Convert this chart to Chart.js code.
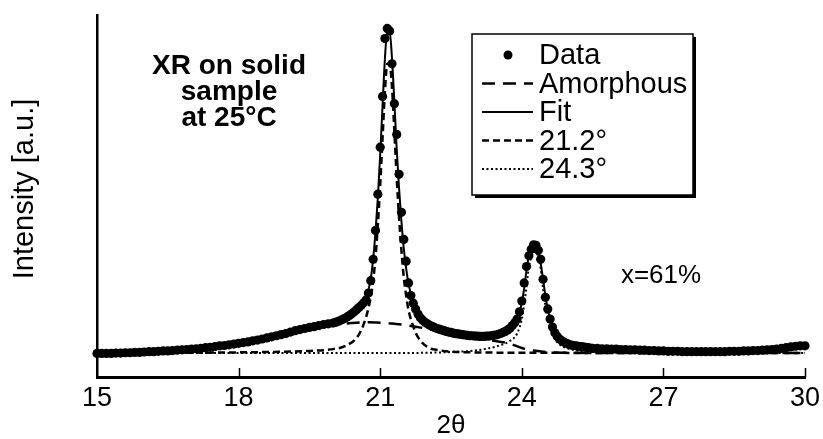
<!DOCTYPE html>
<html>
<head>
<meta charset="utf-8">
<script src="https://cdn.jsdelivr.net/npm/chart.js@4.4.0/dist/chart.umd.min.js"></script>
<style>
  html, body { margin: 0; padding: 0; background: #fff; }
  #wrap { width: 823px; height: 439px; }
</style>
</head>
<body>
<div id="wrap"><canvas id="xrdChart" width="823" height="439"></canvas></div>
<script>
// measured points (2theta, intensity a.u.)
const dataAngle = [
    15.0, 15.1, 15.2, 15.3, 15.4, 15.5, 15.6, 15.7, 15.8, 15.9,
    16.0, 16.1, 16.2, 16.3, 16.4, 16.5, 16.6, 16.7, 16.8, 16.9,
    17.0, 17.1, 17.2, 17.3, 17.4, 17.5, 17.6, 17.7, 17.8, 17.9,
    18.0, 18.1, 18.2, 18.3, 18.4, 18.5, 18.6, 18.7, 18.8, 18.9,
    19.0, 19.1, 19.2, 19.3, 19.4, 19.5, 19.6, 19.7, 19.8, 19.9,
    20.00, 20.05, 20.10, 20.15, 20.20, 20.25, 20.30, 20.35, 20.40, 20.45,
    20.50, 20.55, 20.60, 20.65, 20.70, 20.75, 20.80, 20.85, 20.90, 20.95,
    21.00, 21.05, 21.10, 21.15, 21.20, 21.25, 21.30, 21.35, 21.40, 21.45,
    21.50, 21.55, 21.60, 21.65, 21.70, 21.75, 21.80, 21.85, 21.90, 21.95,
    22.00, 22.05, 22.10, 22.15, 22.20, 22.25, 22.30, 22.35, 22.40, 22.45,
    22.50, 22.55, 22.60, 22.65, 22.70, 22.75, 22.80, 22.85, 22.90, 22.95,
    23.00, 23.05, 23.10, 23.15, 23.20, 23.25, 23.30, 23.35, 23.40, 23.45,
    23.50, 23.55, 23.60, 23.65, 23.70, 23.75, 23.80, 23.85, 23.90, 23.95,
    24.00, 24.05, 24.10, 24.15, 24.20, 24.25, 24.30, 24.35, 24.40, 24.45,
    24.50, 24.55, 24.60, 24.65, 24.70, 24.75, 24.80, 24.85, 24.90, 24.95,
    25.00, 25.05, 25.10, 25.15, 25.20, 25.25, 25.30, 25.35, 25.40, 25.45,
    25.5, 25.6, 25.7, 25.8, 25.9, 26.0, 26.1, 26.2, 26.3, 26.4,
    26.5, 26.6, 26.7, 26.8, 26.9, 27.0, 27.1, 27.2, 27.3, 27.4,
    27.5, 27.6, 27.7, 27.8, 27.9, 28.0, 28.1, 28.2, 28.3, 28.4,
    28.5, 28.6, 28.7, 28.8, 28.9, 29.0, 29.1, 29.2, 29.3, 29.4,
    29.5, 29.6, 29.7, 29.8, 29.9, 30.0
];
const dataIntensity = [
    6.5, 6.5, 6.5, 6.5, 6.6, 6.6, 6.7, 6.7, 6.8, 6.8,
    6.9, 7.0, 7.0, 7.1, 7.2, 7.2, 7.3, 7.4, 7.5, 7.6,
    7.7, 7.8, 7.9, 8.1, 8.2, 8.4, 8.6, 8.7, 8.9, 9.1,
    9.3, 9.5, 9.7, 10.0, 10.2, 10.5, 10.8, 11.1, 11.4, 11.7,
    12.0, 12.4, 12.8, 13.1, 13.4, 13.7, 13.9, 14.2, 14.5, 14.7,
    14.9, 15.1, 15.3, 15.6, 15.9, 16.2, 16.6, 17.0, 17.5, 18.0,
    18.6, 19.2, 19.8, 20.5, 21.3, 23.2, 26.6, 32.5, 40.5, 50.5,
    63.5, 77.5, 93.5, 96.3, 95.6, 86.5, 75.5, 67.0, 56.0, 45.5,
    38.0, 32.0, 26.0, 22.5, 20.4, 18.8, 17.4, 16.4, 15.7, 15.1,
    14.7, 14.3, 14.0, 13.7, 13.4, 13.2, 13.0, 12.8, 12.6, 12.4,
    12.3, 12.1, 12.0, 11.9, 11.8, 11.7, 11.6, 11.5, 11.4, 11.4,
    11.3, 11.3, 11.2, 11.2, 11.2, 11.3, 11.3, 11.4, 11.5, 11.6,
    11.8, 12.0, 12.3, 12.6, 13.0, 13.5, 14.2, 15.0, 16.0, 18.0,
    21.0, 26.0, 30.5, 33.5, 35.3, 36.5, 36.4, 35.0, 32.5, 27.0,
    22.0, 18.8, 16.0, 13.8, 12.2, 11.2, 10.5, 10.0, 9.6, 9.3,
    9.0, 8.8, 8.7, 8.6, 8.5, 8.4, 8.3, 8.2, 8.1, 8.0,
    7.9, 7.9, 7.8, 7.8, 7.7, 7.7, 7.6, 7.6, 7.5, 7.5,
    7.4, 7.4, 7.3, 7.3, 7.2, 7.2, 7.1, 7.1, 7.1, 7.0,
    7.0, 7.0, 7.0, 7.0, 7.0, 7.0, 7.0, 7.0, 7.0, 7.1,
    7.1, 7.1, 7.2, 7.2, 7.3, 7.3, 7.4, 7.5, 7.6, 7.7,
    7.9, 8.1, 8.3, 8.5, 8.6, 8.6
];

// amorphous halo
const amorphAngle = [15, 15.5, 16, 16.5, 17, 17.5, 18, 18.5, 19, 19.5,
    20, 20.25, 20.5, 20.75, 21, 21.25, 21.5, 21.75, 22, 22.25,
    22.5, 22.75, 23, 23.25, 23.5, 23.75, 24, 24.25, 24.5, 25,
    26, 27, 28, 29, 30];
const amorphIntensity = [6.5, 6.6, 6.9, 7.2, 7.7, 8.4, 9.3, 10.4, 11.8, 13.2,
    14.2, 14.7, 15.0, 15.1, 15.0, 14.8, 14.4, 13.9, 13.3, 12.6,
    11.9, 11.3, 10.8, 10.3, 9.8, 9.2, 8.0, 7.3, 6.9, 6.7,
    6.6, 6.6, 6.6, 6.6, 6.6];

// total fit
const fitAngle = [15, 16, 17, 18, 19, 19.5, 20, 20.25, 20.5, 20.6,
    20.7, 20.75, 20.8, 20.85, 20.9, 20.95, 21, 21.05, 21.1, 21.15,
    21.2, 21.25, 21.3, 21.35, 21.4, 21.45, 21.5, 21.55, 21.6, 21.7,
    21.8, 22, 22.25, 22.5, 23, 23.5, 23.75, 23.9, 24, 24.05,
    24.1, 24.15, 24.2, 24.25, 24.3, 24.35, 24.4, 24.45, 24.5, 24.55,
    24.6, 24.7, 24.8, 25, 25.5, 26, 27, 28, 29, 29.5,
    30];
const fitIntensity = [6.5, 6.9, 7.7, 9.3, 12.0, 13.7, 14.9, 16.2, 18.6, 19.9,
    21.9, 24.0, 27.2, 32.5, 40.0, 49.5, 61.5, 75.0, 88.0, 95.5,
    95.5, 88.0, 76.0, 63.0, 52.0, 43.0, 35.5, 30.0, 25.8, 20.5,
    17.4, 14.7, 13.2, 12.3, 11.3, 11.8, 13.5, 16.0, 20.5, 24.5,
    29.5, 33.5, 36.0, 37.0, 36.8, 35.0, 31.5, 27.0, 22.5, 18.8,
    16.0, 12.3, 10.5, 9.0, 7.9, 7.7, 7.2, 7.0, 7.3, 7.9,
    8.6];

// crystalline peak at 21.2 deg
const peak212Angle = [15, 17, 18, 19, 19.5, 20, 20.25, 20.5, 20.6, 20.7,
    20.75, 20.8, 20.85, 20.9, 20.95, 21, 21.05, 21.1, 21.15, 21.2,
    21.25, 21.3, 21.35, 21.4, 21.45, 21.5, 21.55, 21.6, 21.7, 21.8,
    22, 22.25, 22.5, 23, 24, 30];
const peak212Intensity = [6.6, 6.7, 6.8, 7.0, 7.2, 7.7, 8.5, 10.8, 13.0, 16.5,
    19.0, 22.0, 26.5, 33.0, 42.0, 53.0, 66.0, 79.0, 86.5, 86.5,
    80.0, 68.0, 55.0, 44.0, 35.0, 27.5, 22.5, 18.5, 14.0, 11.0,
    8.3, 7.4, 7.0, 6.8, 6.7, 6.6];

// crystalline peak at 24.3 deg
const peak243Angle = [15, 21, 22, 22.5, 23, 23.25, 23.5, 23.75, 23.9, 24,
    24.05, 24.1, 24.15, 24.2, 24.25, 24.3, 24.35, 24.4, 24.45, 24.5,
    24.55, 24.6, 24.7, 24.8, 25, 25.5, 26, 27, 30];
const peak243Intensity = [6.6, 6.6, 6.7, 6.9, 7.3, 7.8, 8.6, 10.0, 12.0, 16.0,
    20.0, 25.0, 30.5, 33.0, 34.5, 34.5, 33.0, 30.0, 24.5, 19.5,
    16.0, 13.5, 10.5, 9.0, 7.8, 7.0, 6.8, 6.7, 6.6];

const xTickStep = 3;
const yTitle = 'Intensity [a.u.]';
const noteLines = ['XR on solid', 'sample', 'at 25°C'];
const compositionNote = 'x=61%';

const SANS = "'Liberation Sans', Arial, Helvetica, sans-serif";

function toPoints(xs, ys) {
    return xs.map((x, i) => ({ x: x, y: ys[i] }));
}

function lineSet(label, xs, ys, dash, width) {
    return {
        label: label,
        data: toPoints(xs, ys),
        showLine: true,
        pointRadius: 0,
        pointHoverRadius: 0,
        borderColor: '#000',
        borderWidth: width,
        borderDash: dash,
        cubicInterpolationMode: 'monotone',
        fill: false
    };
}

// Legend box, inner ticks and text notes
const decorPlugin = {
    id: 'decor',
    afterDraw(chart) {
        const c = chart.ctx;
        const xs = chart.scales.x;
        const area = chart.chartArea;
        c.save();

        // ticks pointing into the plot
        c.strokeStyle = '#000';
        c.lineWidth = 1.5;
        c.setLineDash([]);
        xs.ticks.forEach(t => {
            if (t.value === xs.min) return;
            const px = Math.round(xs.getPixelForValue(t.value)) + 0.5;
            c.beginPath();
            c.moveTo(px, area.bottom);
            c.lineTo(px, area.bottom - 9);
            c.stroke();
        });

        // y axis title
        c.fillStyle = '#000';
        c.textAlign = 'center';
        c.textBaseline = 'middle';
        c.save();
        c.translate(25, 189);
        c.rotate(-Math.PI / 2);
        c.font = '29px ' + SANS;
        c.fillText(yTitle, 0, 0);
        c.restore();

        // sample note
        c.font = 'bold 28px ' + SANS;
        noteLines.forEach((line, i) => {
            c.fillText(line, 229, 66 + i * 26);
        });
        c.font = '26px ' + SANS;
        c.fillText(compositionNote, 661, 276);

        // legend frame with drop shadow
        const bx = 472, by = 34, bw = 221, bh = 161;
        c.fillStyle = '#000';
        c.fillRect(bx + 3, by + 3, bw, bh);
        c.fillStyle = '#fff';
        c.fillRect(bx, by, bw, bh);
        c.lineWidth = 1.5;
        c.strokeRect(bx, by, bw, bh);

        c.textAlign = 'left';
        c.font = '29px ' + SANS;
        chart.data.datasets.forEach((ds, i) => {
            const y = 55 + i * 28.5;
            c.strokeStyle = '#000';
            c.fillStyle = '#000';
            if (ds.showLine) {
                c.lineWidth = ds.borderWidth;
                c.setLineDash(ds.borderDash || []);
                c.beginPath();
                c.moveTo(482, y);
                c.lineTo(533, y);
                c.stroke();
                c.setLineDash([]);
            } else {
                c.beginPath();
                c.arc(508, y, 4.5, 0, Math.PI * 2);
                c.fill();
            }
            c.fillText(ds.label, 539, y + 1);
        });
        c.restore();
    }
};

const ctx = document.getElementById('xrdChart').getContext('2d');
const xrdChart = new Chart(ctx, {
    type: 'scatter',
    data: {
        datasets: [
            {
                label: 'Data',
                data: toPoints(dataAngle, dataIntensity),
                showLine: false,
                pointRadius: 4.6,
                pointHoverRadius: 4.6,
                backgroundColor: '#000',
                borderColor: '#000',
                borderWidth: 0,
                clip: false
            },
            lineSet('Amorphous', amorphAngle, amorphIntensity, [13, 8], 2.5),
            lineSet('Fit', fitAngle, fitIntensity, [], 2),
            lineSet('21.2°', peak212Angle, peak212Intensity, [7, 4], 2.5),
            lineSet('24.3°', peak243Angle, peak243Intensity, [2, 2.5], 2)
        ]
    },
    options: {
        responsive: false,
        animation: false,
        events: [],
        layout: { padding: { top: 15, right: 18, left: 0, bottom: 0 } },
        plugins: {
            legend: { display: false },
            tooltip: { enabled: false }
        },
        scales: {
            x: {
                type: 'linear',
                min: 15,
                max: 30,
                ticks: {
                    stepSize: xTickStep,
                    color: '#000',
                    padding: 8,
                    font: { family: SANS, size: 27, lineHeight: 1 }
                },
                grid: { display: false, drawTicks: false },
                border: { display: true, color: '#000', width: 3 },
                title: {
                    display: true,
                    text: '2θ',
                    color: '#000',
                    font: { family: SANS, size: 26, lineHeight: 1 },
                    padding: { top: 0, bottom: 0 }
                },
                afterFit: function(scale) {
                    scale.height = 62;
                    scale.paddingLeft = 0;
                    scale.paddingRight = 0;
                }
            },
            y: {
                type: 'linear',
                min: 0,
                max: 100,
                ticks: { display: false },
                grid: { display: false, drawTicks: false },
                border: { display: true, color: '#000', width: 2.5 },
                title: { display: false },
                afterFit: function(scale) { scale.width = 97; }
            }
        }
    },
    plugins: [decorPlugin]
});
</script>
</body>
</html>
